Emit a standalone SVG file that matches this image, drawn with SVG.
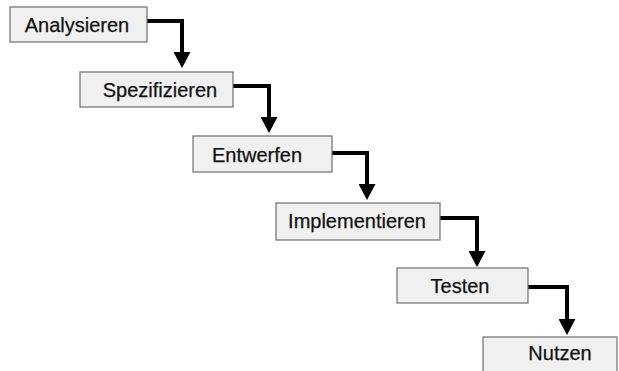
<svg xmlns="http://www.w3.org/2000/svg" width="619" height="371" viewBox="0 0 619 371">
  <style>
    .box { fill: #f0f0f0; stroke: #6e6e6e; stroke-width: 1.2; }
    .label { font-family: "Liberation Sans", Arial, sans-serif; font-size: 20px; fill: #111; text-anchor: middle; stroke: #111; stroke-width: 0.25; }
    .flow { fill: none; stroke: #000; stroke-width: 4; stroke-linejoin: miter; marker-end: url(#head); }
  </style>
  <defs>
    <marker id="head" markerUnits="userSpaceOnUse" markerWidth="16" markerHeight="17" viewBox="0 0 16 17" refX="5" refY="8.5" orient="auto">
      <path d="M0,0 L16,8.5 L0,17 Z" fill="#000"/>
    </marker>
  </defs>
  <rect width="619" height="371" fill="#ffffff"/>

  <g id="connectors">
    <path class="flow" d="M147,21 H182 V57"/>
    <path class="flow" d="M233,86 H269 V122"/>
    <path class="flow" d="M332,153 H367 V189"/>
    <path class="flow" d="M440,218 H477 V256"/>
    <path class="flow" d="M528,287 H567 V324"/>
  </g>

  <g id="analysieren">
    <rect class="box" x="10" y="7" width="137" height="35"/>
    <text class="label" x="77" y="32">Analysieren</text>
  </g>
  <g id="spezifizieren">
    <rect class="box" x="80" y="72" width="153" height="35"/>
    <text class="label" x="160" y="97">Spezifizieren</text>
  </g>
  <g id="entwerfen">
    <rect class="box" x="193" y="136" width="139" height="36"/>
    <text class="label" x="257" y="162">Entwerfen</text>
  </g>
  <g id="implementieren">
    <rect class="box" x="276" y="203" width="164" height="37"/>
    <text class="label" x="357" y="228">Implementieren</text>
  </g>
  <g id="testen">
    <rect class="box" x="397" y="268" width="131" height="35"/>
    <text class="label" x="460" y="293">Testen</text>
  </g>
  <g id="nutzen">
    <rect class="box" x="483" y="337" width="134" height="45"/>
    <text class="label" x="560" y="360">Nutzen</text>
  </g>
</svg>
